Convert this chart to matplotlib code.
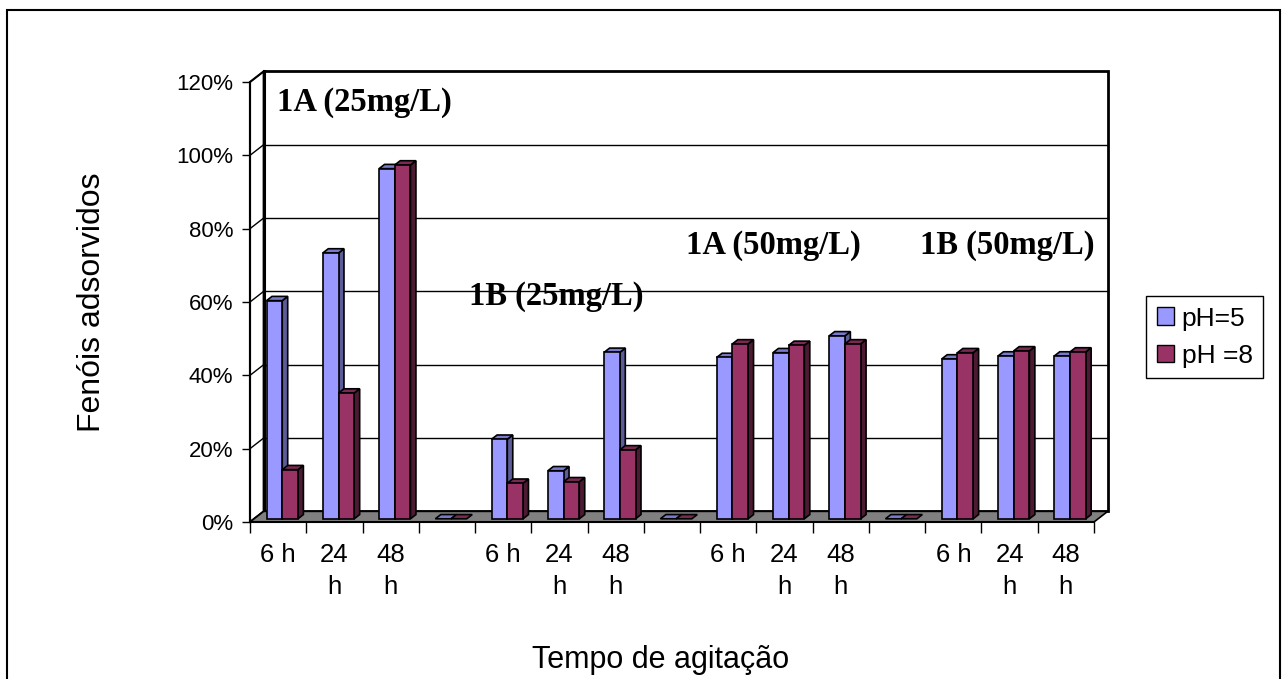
import numpy as np
import matplotlib.pyplot as plt
from matplotlib.patches import Polygon, Rectangle, Patch

plt.rcParams["font.family"] = ["Liberation Sans", "DejaVu Sans"]

# data
categories = ["6 h", "24\nh", "48\nh", "", "6 h", "24\nh", "48\nh", "",
              "6 h", "24\nh", "48\nh", "", "6 h", "24\nh", "48\nh"]
ph5 = [59.5, 72.5, 95.5, 0, 21.7, 13.1, 45.4, 0, 44.0, 45.3, 49.9, 0, 43.6, 44.4, 44.4]
ph8 = [13.4, 34.3, 96.5, 0, 9.7, 10.1, 18.8, 0, 47.7, 47.3, 47.7, 0, 45.3, 45.8, 45.5]
series_names = ["pH=5", "pH =8"]
group_labels = ["1A (25mg/L)", "1B (25mg/L)", "1A (50mg/L)", "1B (50mg/L)"]
group_label_pos = [(2.04, 114.3), (5.44, 61.6), (9.31, 75.3), (13.45, 75.3)]
yticks = [0, 20, 40, 60, 80, 100, 120]

# colours (front, side, top)
blue = ("#9999FF", "#5C5C99", "#7A7ACC")
red = ("#993366", "#4D1A33", "#7A2952")

n = len(categories)
W, H = 1285, 679
fig = plt.figure(figsize=(W / 100, H / 100), dpi=100)
ax = fig.add_axes([250 / W, 1 - 522 / H, 844 / W, 440 / H])
ax.set_xlim(0, n)
ax.set_ylim(0, 120)
ax.set_facecolor("none")

# depth of the 3d box and of the bars (data units)
DX, DY = 0.243, 2.9
FX, FY = 0.30 * DX, 0.30 * DY        # bar front face offset
BDX, BDY = 0.40 * DX, 0.40 * DY      # bar depth
BW = 0.279                           # width of one bar

# back wall
ax.add_patch(Rectangle((DX, DY), n, 120, fc="white", ec="black", lw=2, zorder=0, clip_on=False))
for yv in yticks[1:-1]:
    ax.plot([DX, n + DX], [yv + DY, yv + DY], color="black", lw=1, zorder=0.5, clip_on=False)
# side wall
ax.add_patch(Polygon([(0, 0), (DX, DY), (DX, 120 + DY), (0, 120)], closed=True,
                     fc="white", ec="black", lw=1.5, zorder=0.6, clip_on=False))
for yv in yticks:
    ax.plot([0, DX], [yv, yv + DY], color="black", lw=1, zorder=0.7, clip_on=False)
ax.plot([DX, DX], [DY, 120 + DY], color="black", lw=2.2, zorder=0.8, clip_on=False)
# floor
ax.add_patch(Polygon([(0, 0), (n, 0), (n + DX, DY), (DX, DY)], closed=True,
                     fc="#808080", ec="black", lw=1.2, zorder=1, clip_on=False))


def draw_bar(x0, h, cols, z):
    x1 = x0 + BW
    y0, y1 = FY, FY + h
    if h > 0:
        ax.add_patch(Polygon([(x1, y0), (x1 + BDX, y0 + BDY), (x1 + BDX, y1 + BDY), (x1, y1)],
                             closed=True, fc=cols[1], ec="black", lw=1.2, zorder=z, clip_on=False))
    ax.add_patch(Polygon([(x0, y1), (x1, y1), (x1 + BDX, y1 + BDY), (x0 + BDX, y1 + BDY)],
                         closed=True, fc=cols[2], ec="black", lw=1.2, zorder=z, clip_on=False))
    if h > 0:
        ax.bar(x0, h, bottom=y0, width=BW, align="edge", color=cols[0],
               edgecolor="black", lw=1.2, zorder=z + 0.001, clip_on=False)


z = 2
for i in range(n):
    c = i + 0.5 + FX
    draw_bar(c - BW, ph5[i], blue, z)
    z += 0.01
    draw_bar(c, ph8[i], red, z)
    z += 0.01

# axes
for s in ["top", "right"]:
    ax.spines[s].set_visible(False)
ax.spines["left"].set_linewidth(1.5)
ax.spines["bottom"].set_linewidth(1.5)
ax.spines["left"].set_zorder(5)
ax.spines["bottom"].set_zorder(5)

ax.set_yticks(yticks)
ax.set_yticklabels([f"{v}%" for v in yticks], fontsize=16)
ax.tick_params(axis="y", length=6, width=1, pad=6)

ax.set_xticks(np.arange(n) + 0.5)
ax.set_xticklabels(categories, fontsize=18.5)
ax.set_xticks(np.arange(n + 1), minor=True)
ax.tick_params(axis="x", which="major", length=0, pad=15)
ax.tick_params(axis="x", which="minor", length=8, width=1)
for lbl in ax.get_xticklabels():
    lbl.set_linespacing(1.42)

for txt, (gx, gy) in zip(group_labels, group_label_pos):
    ax.text(gx, gy, txt, ha="center", va="center", fontsize=23.5, fontweight="bold",
            family="Liberation Serif", zorder=10)

fig.text(92 / W, 1 - 302 / H, "Fenóis adsorvidos", rotation=90, ha="center", va="center", fontsize=23)
fig.text(661 / W, 1 - 660 / H, "Tempo de agitação", ha="center", va="center", fontsize=22)

handles = [Patch(fc=blue[0], ec="black"), Patch(fc=red[0], ec="black")]
leg = fig.legend(handles, series_names, loc="upper left", bbox_to_anchor=(1146 / W, 1 - 296 / H),
                 fontsize=19, frameon=True, fancybox=False, edgecolor="black", framealpha=1,
                 handlelength=0.65, handleheight=0.65, handletextpad=0.3, borderpad=0.4,
                 labelspacing=0.5, borderaxespad=0)
leg.get_frame().set_linewidth(1)

# outer chart border
fig.patches.append(Rectangle((7 / W, -0.05), (1280 - 7) / W, 1.05 - 10 / H, transform=fig.transFigure,
                             fill=False, ec="black", lw=1.5))

fig.savefig("out.png", dpi=100)
